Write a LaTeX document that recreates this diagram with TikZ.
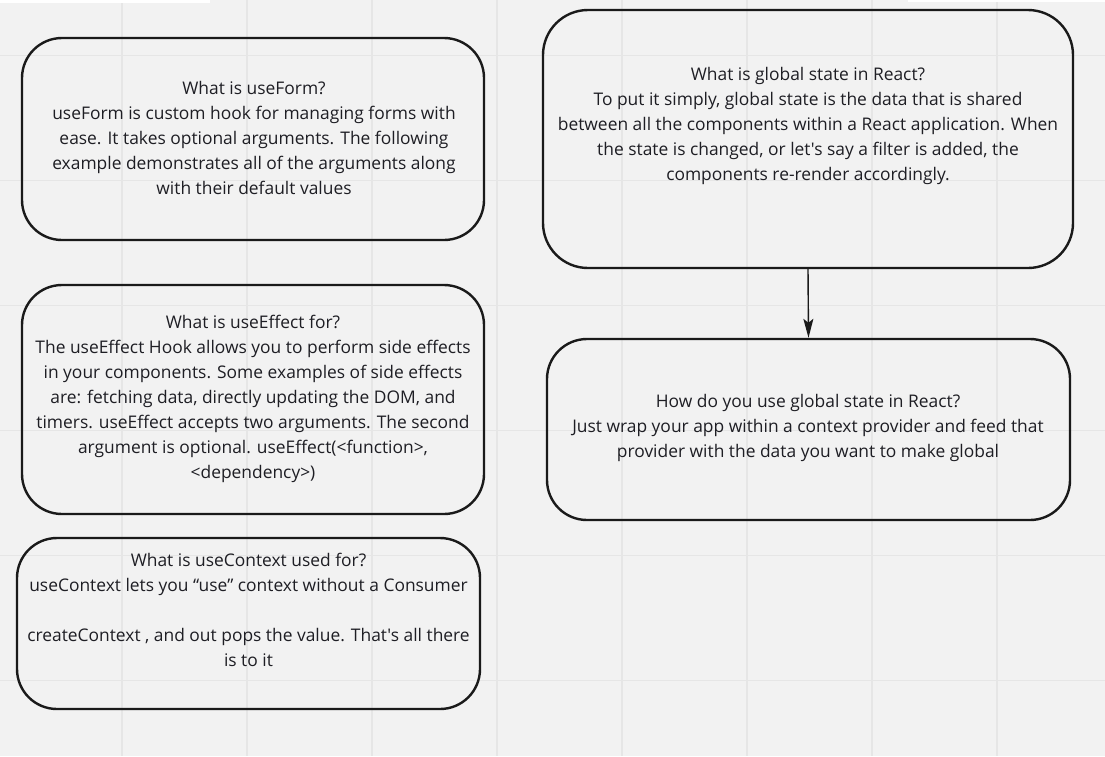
\documentclass[tikz,border=0pt]{standalone}
\usepackage{fontspec}
\setmainfont{Open Sans}[Ligatures=TeXOff]
\usetikzlibrary{arrows.meta}
\definecolor{bg}{HTML}{F2F2F2}
\definecolor{gridc}{HTML}{E6E6E6}
\definecolor{ink}{HTML}{1A1A1A}
\definecolor{txtc}{HTML}{1E1E24}
\begin{document}
\begin{tikzpicture}[x=1pt,y=-1pt,
  box/.style={draw=ink, line width=2.4pt, rounded corners=40pt, inner sep=0pt},
  txt/.style={align=center, text=txtc, font=\fontsize{17.4}{25}\selectfont, inner sep=0pt},
  conn/.style={draw=ink, line width=1.4pt, -{Stealth[length=19pt,width=10pt,inset=4pt]}},
  gridline/.style={draw=gridc, line width=1.5pt}]
\fill[bg] (0,0) rectangle (1105,756);
\useasboundingbox (0,0) rectangle (1105,756);
\foreach \x in {122,247,...,997} \draw[gridline] (\x,0) -- (\x,756);
\foreach \y in {55.5,180.5,...,680.5} \draw[gridline] (0,\y) -- (1105,\y);
% white toolbar strips
\fill[white] (0,0) rectangle (210,3);
\fill[white] (908,0) rectangle (1105,2);

\node[box, minimum width=462pt, minimum height=202pt] (b1) at (253,139) {};
\node[box, rounded corners=45pt, minimum width=530pt, minimum height=258pt] (b2) at (808,139) {};
\node[box, minimum width=523pt, minimum height=181pt] (b3) at (808.5,429.5) {};
\node[box, minimum width=462pt, minimum height=229pt] (b4) at (253,399.5) {};
\node[box, minimum width=463pt, minimum height=171pt] (b5) at (248.5,623.5) {};

\node[txt] (t1) at (254,138) {What is useForm?\\useForm is custom hook for managing forms with\\ease. It takes optional arguments. The following\\example demonstrates all of the arguments along\\with their default values};
\node[txt] (t2) at (808,126) {What is global state in React?\\To put it simply, global state is the data that is shared\\between all the components within a React application. When\\the state is changed, or let's say a filter is added, the\\components re-render accordingly.};
\node[txt] (t3) at (808,428) {How do you use global state in React?\\Just wrap your app within a context provider and feed that\\provider with the data you want to make global};
\node[txt] (t4) at (253,399) {What is useEffect for?\\The useEffect Hook allows you to perform side effects\\in your components. Some examples of side effects\\are: fetching data, directly updating the DOM, and\\timers. useEffect accepts two arguments. The second\\argument is optional. useEffect(<function>,\\<dependency>)};
\node[txt] (t5) at (248.5,610) {What is useContext used for?\\useContext lets you “use” context without a Consumer\\\mbox{}\\createContext , and out pops the value. That's all there\\is to it};

\draw[conn] (b2.south) -- (b3.north);
\end{tikzpicture}
\end{document}
